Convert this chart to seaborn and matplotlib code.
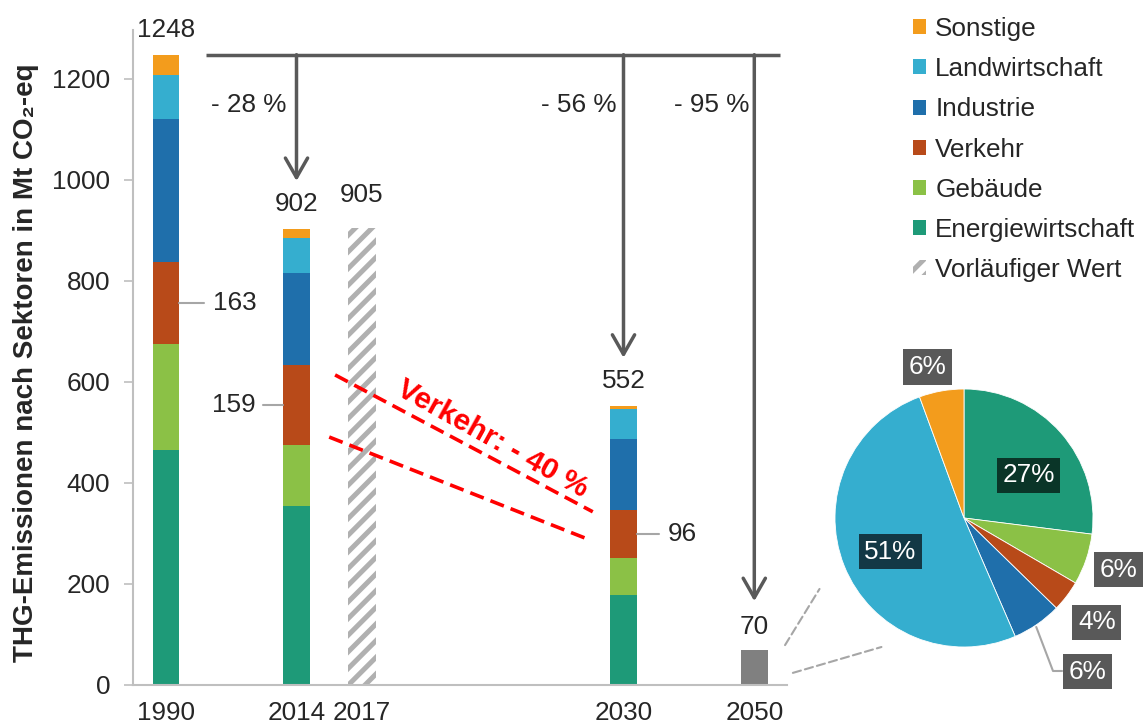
import numpy as np
import pandas as pd
import matplotlib
matplotlib.use("Agg")
import matplotlib.pyplot as plt
import seaborn as sns
from matplotlib.patches import Patch, ConnectionPatch

# ---------------- data ----------------
sectors = ["Sonstige", "Landwirtschaft", "Industrie", "Verkehr", "Gebäude", "Energiewirtschaft"]
sector_colors = ["#F39C1C", "#35AECF", "#1F6FAB", "#B84A19", "#8BC146", "#1E9A78"]
stack_years = ["1990", "2014", "2030"]
values_1990 = [41, 86, 283, 163, 209, 466]
values_2014 = [17, 70, 181, 159, 120, 355]
values_2030 = [5, 60, 140, 96, 73, 178]
totals = [1248, 902, 552]
prelim_year = "2017"
prelim_value = 905
target_year = "2050"
target_value = 70
year_labels = ["1990", "2014", "2017", "2030", "2050"]
reduction_labels = ["- 28 %", "- 56 %", "- 95 %"]
transport_values = [163, 159, 96]
pie_sectors = ["Energiewirtschaft", "Gebäude", "Verkehr", "Industrie", "Landwirtschaft", "Sonstige"]
pie_shares = [27, 6.4, 3.9, 6.2, 50.9, 5.6]

# ---------------- style ----------------
sns.set_style("white")
plt.rcParams["font.family"] = ["Liberation Sans", "DejaVu Sans"]
plt.rcParams["hatch.linewidth"] = 3.6
FS = 18.8
GREY = "#595959"
LIGHT = "#bfbfbf"

fig = plt.figure(figsize=(11.45, 7.26), dpi=100)
ax = fig.add_axes([133 / 1145, 41 / 726, 654 / 1145, 655 / 726])

# layout slots along the x axis
slot = {"1990": 0, "2014": 2, "2017": 3, "2030": 7, "2050": 9}
color_map = dict(zip(sectors, sector_colors))

rows = []
for yr, vals in zip(stack_years, [values_1990, values_2014, values_2030]):
    for s, v in zip(sectors, vals):
        rows.append({"pos": slot[yr], "sector": s, "value": v})
df = pd.DataFrame(rows)

sns.histplot(data=df, x="pos", weights="value", hue="sector", hue_order=sectors,
             palette=color_map, multiple="stack", discrete=True, shrink=0.4,
             linewidth=0, alpha=1, legend=False, ax=ax)

# preliminary 2017 (hatched) and 2050 target
ax.bar(slot[prelim_year], prelim_value, width=0.44, facecolor="white",
       edgecolor="#b0b0b0", hatch="//", linewidth=0)
ax.bar(slot[target_year], target_value, width=0.41, color="#808080", linewidth=0)

ax.set_xlim(-0.5, 9.5)
ax.set_ylim(0, 1297)
ax.set_xticks([slot[y] for y in year_labels])
ax.set_xticklabels(year_labels, fontsize=FS)
ax.set_yticks(np.arange(0, 1201, 200))
ax.set_yticklabels([str(v) for v in range(0, 1201, 200)], fontsize=FS)
ax.tick_params(axis="y", direction="out", length=6.5, width=1.2, color=LIGHT, pad=10, left=True)
ax.tick_params(axis="x", length=0, pad=11.5)
for side in ["top", "right"]:
    ax.spines[side].set_visible(False)
for side in ["left", "bottom"]:
    ax.spines[side].set_color(LIGHT)
    ax.spines[side].set_linewidth(1.5)
ax.set_xlabel("")
ax.set_ylabel("THG-Emissionen nach Sektoren in Mt CO₂-eq", fontsize=20,
              fontweight="bold", va="center")
ax.yaxis.set_label_coords(-0.163, 0.492)

# value labels above the bars
for yr, tot in zip(stack_years, totals):
    ax.annotate(str(tot), (slot[yr], tot), xytext=(0, 18), textcoords="offset points",
                ha="center", va="center", fontsize=FS)
ax.annotate(str(prelim_value), (slot[prelim_year], prelim_value), xytext=(0, 24),
            textcoords="offset points", ha="center", va="center", fontsize=FS)
ax.annotate(str(target_value), (slot[target_year], target_value), xytext=(0, 16),
            textcoords="offset points", ha="center", va="center", fontsize=FS)

# reduction arrows
ax.plot([0.62, 9.4], [totals[0], totals[0]], color=GREY, lw=2.5, solid_capstyle="butt")
arrow_kw = dict(arrowstyle="->,head_length=0.7,head_width=0.4", color=GREY, lw=2.5,
                mutation_scale=20, shrinkA=0, shrinkB=0)
arrow_targets = [("2014", 902), ("2030", 552), ("2050", 70)]
label_right = {"2014": 1.85, "2030": 6.9, "2050": 8.92}
for (yr, val), lab in zip(arrow_targets, reduction_labels):
    ax.annotate("", xy=(slot[yr], val + 96), xytext=(slot[yr], totals[0]), arrowprops=arrow_kw)
    ax.text(label_right[yr], 1149, lab, ha="right", va="center", fontsize=FS)

# transport leader labels
lead = dict(color="#a6a6a6", lw=1.5)
v_mid_1990 = sum(values_1990[4:]) + values_1990[3] / 2
v_mid_2014 = sum(values_2014[4:]) + values_2014[3] / 2
v_mid_2030 = sum(values_2030[4:]) + values_2030[3] / 2
ax.plot([0.2, 0.59], [v_mid_1990, v_mid_1990], **lead)
ax.text(0.72, v_mid_1990, str(transport_values[0]), ha="left", va="center", fontsize=FS)
ax.plot([1.49, 1.79], [v_mid_2014, v_mid_2014], **lead)
ax.text(1.37, v_mid_2014, str(transport_values[1]), ha="right", va="center", fontsize=FS)
ax.plot([7.21, 7.54], [v_mid_2030, v_mid_2030], **lead)
ax.text(7.68, v_mid_2030, str(transport_values[2]), ha="left", va="center", fontsize=FS)

# Verkehr -40% dashed corridor
ax.plot([2.59, 6.53], [614, 343], color="red", lw=2.6, linestyle=(0, (4, 2)))
ax.plot([2.50, 6.49], [491, 287], color="red", lw=2.6, linestyle=(0, (4, 2)))
ax.text(5.0, 487, "Verkehr: - 40 %", rotation=-29, color="red", fontweight="bold",
        fontsize=21.5, ha="center", va="center", rotation_mode="anchor")

# ---------------- pie for 2050 ----------------
pax = fig.add_axes([(964 - 129) / 1145, 1 - (518 + 129) / 726, 258 / 1145, 258 / 726])
pie_colors = [color_map[s] for s in pie_sectors]
pax.pie(pie_shares, colors=pie_colors, startangle=90, counterclock=False,
        wedgeprops=dict(linewidth=0.6, edgecolor="white"))
pax.set_xlim(-1, 1)
pax.set_ylim(-1, 1)
pax.set_aspect("equal")
pax.axis("off")

label_pos = [(0.50, 0.33), (1.20, -0.40), (1.03, -0.81), (0.96, -1.19), (-0.57, -0.26), (-0.28, 1.17)]
box_colors = ["#0A3528", GREY, GREY, GREY, "#133845", GREY]
for share, (px, py), bc in zip(pie_shares, label_pos, box_colors):
    pax.text(px, py, f"{round(share)}%", ha="center", va="center", color="white",
             fontsize=FS, clip_on=False,
             bbox=dict(boxstyle="square,pad=0.22", facecolor=bc, edgecolor="none"))
pax.plot([0.56, 0.69, 0.76], [-0.845, -1.186, -1.186], color="#a6a6a6", lw=1.5, clip_on=False)

# dashed connectors from the 2050 bar to the pie
for (bx, by), (qx, qy) in [((9.47, 79), (-1.12, -0.55)), ((9.59, 24), (-0.64, -1.0))]:
    con = ConnectionPatch(xyA=(bx, by), coordsA=ax.transData, xyB=(qx, qy), coordsB=pax.transData,
                          color="#a6a6a6", lw=1.5, linestyle=(0, (4, 2)))
    fig.add_artist(con)

# ---------------- legend ----------------
handles = [Patch(facecolor=c, edgecolor="none") for c in sector_colors]
handles.append(Patch(facecolor="white", edgecolor="#b0b0b0", hatch="//", linewidth=0))
labels = sectors + ["Vorläufiger Wert"]
fig.legend(handles, labels, loc="upper left", bbox_to_anchor=(913 / 1145, 1 - 17 / 726),
           frameon=False, fontsize=FS, handlelength=0.5, handleheight=0.5,
           handletextpad=0.35, labelspacing=0.62, borderpad=0, borderaxespad=0)

fig.savefig("out.png", dpi=100)
